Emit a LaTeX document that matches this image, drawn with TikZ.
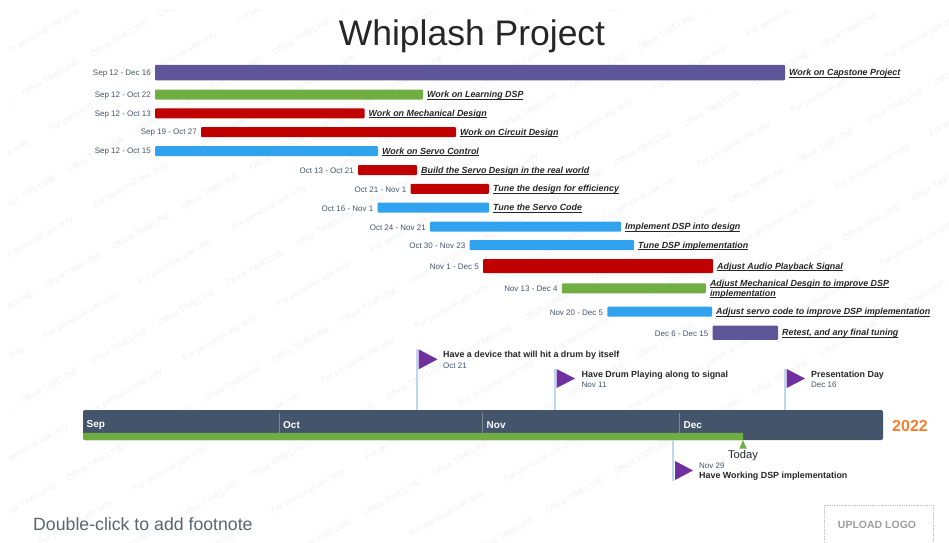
\documentclass[tikz,border=0pt]{standalone}
\usepackage{fontspec}
\setmainfont{Liberation Sans}
\usetikzlibrary{positioning}
\definecolor{barpurple}{HTML}{5F5599}
\definecolor{bargreen}{HTML}{70AD42}
\definecolor{barred}{HTML}{C00000}
\definecolor{barblue}{HTML}{31A2EE}
\definecolor{slate}{HTML}{44546A}
\definecolor{flagpurple}{HTML}{7030A0}
\definecolor{polblue}{HTML}{BDD7EE}
\definecolor{stamp}{HTML}{F0F0F0}
\definecolor{footgrey}{HTML}{5A6570}
\newcommand{\lined}[1]{\leavevmode\setbox0\hbox{#1}\rlap{\rule[-1.6pt]{\wd0}{0.6pt}}\box0}
\tikzset{
  taskbar/.style={anchor=west,inner sep=0pt,outer sep=0pt,rounded corners=1pt},
  datetext/.style={inner sep=0pt,yshift=-0.8pt,text=slate,font=\fontsize{8}{10}\selectfont},
  tasktext/.style={inner sep=0pt,yshift=-0.8pt,align=left,text=black!85,
    font=\fontsize{8.9}{10}\selectfont\bfseries\itshape},
  markertext/.style={anchor=west,inner sep=0pt,text=black!85,
    font=\fontsize{8.9}{11}\selectfont\bfseries},
  markerdate/.style={anchor=west,inner sep=0pt,text=slate,font=\fontsize{8}{10}\selectfont},
  monthtext/.style={anchor=west,inner sep=0pt,text=white,
    font=\fontsize{10}{12}\selectfont\bfseries},
  pole/.style={polblue,line width=1.6pt},
  monthrule/.style={slate!70!white,line width=0.7pt},
  stamptext/.style={inner sep=0pt,rotate=30,text=stamp,font=\fontsize{8.7}{10}\selectfont},
}
\begin{document}
\begin{tikzpicture}[x=1pt,y=-1pt]
  \useasboundingbox (0,0) rectangle (949,542);

  % background stamps
  \begin{scope}
    \clip (8,9) rectangle (949,542);
    \foreach \m in {-11,...,7} \foreach \n in {-5,...,4} {
      \pgfmathsetmacro{\px}{187-68.5*\m+45.5*\n}
      \pgfmathsetmacro{\py}{307+39.3*\m+76.5*\n}
      \pgfmathtruncatemacro{\keep}{and(and(\px>-25,\px<975),and(\py>-10,\py<560))}
      \ifnum\keep=1
        \node[stamptext] (office\m n\n) at (\px,\py) {Office TIMELINE};
      \fi
    }
    \foreach \m in {-8,...,5} \foreach \n in {-5,...,4} {
      \pgfmathsetmacro{\px}{175-94*\m+44.5*\n}
      \pgfmathsetmacro{\py}{262+54*\m+76.5*\n}
      \pgfmathtruncatemacro{\keep}{and(and(\px>-30,\px<985),and(\py>-15,\py<565))}
      \ifnum\keep=1
        \node[stamptext] (personal\m n\n) at (\px,\py) {For personal use only};
      \fi
    }
  \end{scope}

  \node[text=black!85,font=\fontsize{35.5}{40}\selectfont] (title) at (472,36) {Whiplash Project};

  % task bars
  \node[taskbar,fill=barpurple,minimum width=630pt,minimum height=15.5pt] (capstone) at (155,72.7) {};
  \node[taskbar,fill=bargreen,minimum width=268pt,minimum height=10pt] (learning) at (155,94.5) {};
  \node[taskbar,fill=barred,minimum width=209.5pt,minimum height=10pt] (mechanical) at (155,113.3) {};
  \node[taskbar,fill=barred,minimum width=255pt,minimum height=10pt] (circuit) at (201,132.2) {};
  \node[taskbar,fill=barblue,minimum width=223pt,minimum height=10pt] (servo) at (155,151) {};
  \node[taskbar,fill=barred,minimum width=59pt,minimum height=10pt] (build) at (358,170.2) {};
  \node[taskbar,fill=barred,minimum width=78.5pt,minimum height=10pt] (tune) at (410.5,188.8) {};
  \node[taskbar,fill=barblue,minimum width=111.5pt,minimum height=10pt] (code) at (377.5,207.7) {};
  \node[taskbar,fill=barblue,minimum width=191pt,minimum height=10pt] (implement) at (430,226.7) {};
  \node[taskbar,fill=barblue,minimum width=164.5pt,minimum height=10pt] (dsptune) at (469.5,245) {};
  \node[taskbar,fill=barred,minimum width=230pt,minimum height=14pt] (audio) at (483,266) {};
  \node[taskbar,fill=bargreen,minimum width=144pt,minimum height=10pt] (desgin) at (561.8,288.3) {};
  \node[taskbar,fill=barblue,minimum width=104.7pt,minimum height=10pt] (adjust) at (607.3,311.7) {};
  \node[taskbar,fill=barpurple,minimum width=65.5pt,minimum height=14.3pt] (retest) at (712.5,332.8) {};

  % dates, to the left of each bar
  \node[datetext,left=4pt of capstone] (capstonedate) {Sep 12 - Dec 16};
  \node[datetext,left=4pt of learning] (learningdate) {Sep 12 - Oct 22};
  \node[datetext,left=4pt of mechanical] (mechanicaldate) {Sep 12 - Oct 13};
  \node[datetext,left=4pt of circuit] (circuitdate) {Sep 19 - Oct 27};
  \node[datetext,left=4pt of servo] (servodate) {Sep 12 - Oct 15};
  \node[datetext,left=4pt of build] (builddate) {Oct 13 - Oct 21};
  \node[datetext,left=4pt of tune] (tunedate) {Oct 21 - Nov 1};
  \node[datetext,left=4pt of code] (codedate) {Oct 16 - Nov 1};
  \node[datetext,left=4pt of implement] (implementdate) {Oct 24 - Nov 21};
  \node[datetext,left=4pt of dsptune] (dsptunedate) {Oct 30 - Nov 23};
  \node[datetext,left=4pt of audio] (audiodate) {Nov 1 - Dec 5};
  \node[datetext,left=4pt of desgin] (desgindate) {Nov 13 - Dec 4};
  \node[datetext,left=4pt of adjust] (adjustdate) {Nov 20 - Dec 5};
  \node[datetext,left=4pt of retest] (retestdate) {Dec 6 - Dec 15};

  % task names, to the right
  \node[tasktext,right=4pt of capstone] (capstonetext) {\lined{Work on Capstone Project}};
  \node[tasktext,right=4pt of learning] (learningtext) {\lined{Work on Learning DSP}};
  \node[tasktext,right=4pt of mechanical] (mechanicaltext) {\lined{Work on Mechanical Design}};
  \node[tasktext,right=4pt of circuit] (circuittext) {\lined{Work on Circuit Design}};
  \node[tasktext,right=4pt of servo] (servotext) {\lined{Work on Servo Control}};
  \node[tasktext,right=4pt of build] (buildtext) {\lined{Build the Servo Design in the real world}};
  \node[tasktext,right=4pt of tune] (tunetext) {\lined{Tune the design for efficiency}};
  \node[tasktext,right=4pt of code] (codetext) {\lined{Tune the Servo Code}};
  \node[tasktext,right=4pt of implement] (implementtext) {\lined{Implement DSP into design}};
  \node[tasktext,right=4pt of dsptune] (dsptunetext) {\lined{Tune DSP implementation}};
  \node[tasktext,right=4pt of audio] (audiotext) {\lined{Adjust Audio Playback Signal}};
  \node[tasktext,right=4pt of desgin] (desgintext) {\lined{Adjust Mechanical Desgin to improve DSP}\\\lined{implementation}};
  \node[tasktext,right=4pt of adjust] (adjusttext) {\lined{Adjust servo code to improve DSP implementation}};
  \node[tasktext,right=4pt of retest] (retesttext) {\lined{Retest, and any final tuning}};

  % time band
  \node[anchor=north west,fill=slate,inner sep=0pt,outer sep=0pt,rounded corners=2pt,
    minimum width=800pt,minimum height=30pt] (band) at (83,410) {};
  \fill[bargreen] (83,432.8) [rounded corners=2pt] -- (83,440) [sharp corners] -- (743,440)
    -- (743,432.8) -- cycle;
  \foreach \x in {279,482.6,679.7}
    \draw[monthrule] (\x,413) -- (\x,432.8);
  \foreach \x/\m in {86.5/Sep,283/Oct,486.5/Nov,683.5/Dec}
    \node[monthtext] (month\m) at (\x,425.3) {\m};
  \node[right=9pt of band,yshift=-0.6pt,inner sep=0pt,text={rgb,255:red,245;green,127;blue,45},
    font=\fontsize{16}{18}\selectfont\bfseries] (year) {2022};

  % today
  \fill[bargreen] (743,440) -- (746.6,448.5) -- (739.4,448.5) -- cycle;
  \node[inner sep=0pt,text=black!85,font=\fontsize{11.2}{13}\selectfont] (today) at (743,455.3) {Today};

  % milestones
  \coordinate (devicetop) at (417,349);
  \coordinate (playingtop) at (555,369);
  \coordinate (daytop) at (785,369);
  \coordinate (workingtail) at (673,480.5);
  \draw[pole] (devicetop) -- (devicetop |- band.north);
  \draw[pole] (playingtop) -- (playingtop |- band.north);
  \draw[pole] (daytop) -- (daytop |- band.north);
  \draw[pole] (workingtail) -- (workingtail |- band.south);
  \fill[flagpurple] (418.6,349.3) -- (437.5,359.3) -- (418.6,369.3) -- cycle;
  \fill[flagpurple] (556.5,369) -- (575,378.5) -- (556.5,388) -- cycle;
  \fill[flagpurple] (786.7,369) -- (805,378.5) -- (786.7,388) -- cycle;
  \fill[flagpurple] (675,461) -- (693,470.5) -- (675,480) -- cycle;

  \node[markertext] (devicetext) at (443,355.3) {Have a device that will hit a drum by itself};
  \node[markerdate] (devicedate) at (443,365.8) {Oct 21};
  \node[markertext] (playingtext) at (581.5,375.3) {Have Drum Playing along to signal};
  \node[markerdate] (playingdate) at (581.5,384.8) {Nov 11};
  \node[markertext] (daytext) at (811,375.3) {Presentation Day};
  \node[markerdate] (daydate) at (811,384.8) {Dec 16};
  \node[markerdate] (workingdate) at (699,465.8) {Nov 29};
  \node[markertext] (workingtext) at (699,475.8) {Have Working DSP implementation};

  % footer
  \node[anchor=west,inner sep=0pt,text=footgrey,font=\fontsize{17.7}{20}\selectfont] (footnote) at (33,524) {Double-click to add footnote};
  \draw[black!25,densely dotted,line width=0.8pt] (824,542) -- (824,505) -- (933,505) -- (933,542);
  \node[inner sep=0pt,text=black!38,font=\fontsize{10.5}{12}\selectfont\bfseries] (logo) at (877,525) {UPLOAD LOGO};
\end{tikzpicture}
\end{document}
